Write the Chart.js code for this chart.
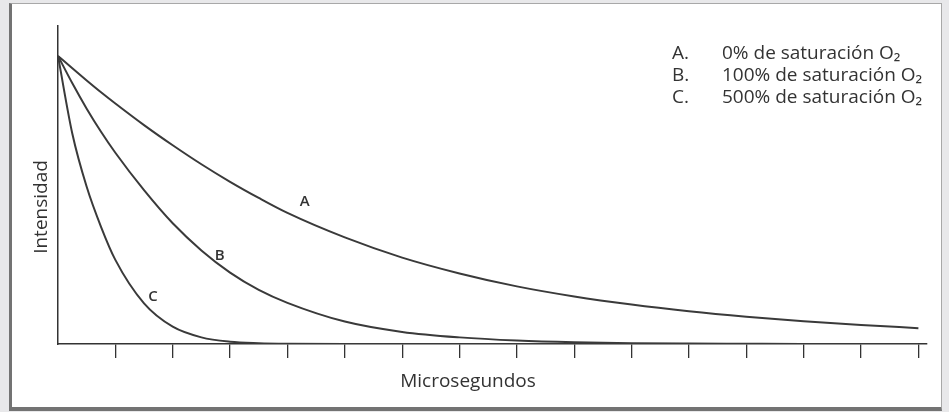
<!DOCTYPE html>
<html>
<head>
<meta charset="utf-8">
<script src="https://cdn.jsdelivr.net/npm/chart.js"></script>
<style>
  body { margin: 0; background: #e8e8ea; }
  #marco {
    position: absolute; left: 9px; top: 3px;
    width: 929px; height: 403px; background: #fff;
    border-left: 3px solid #737373; border-top: 1px solid #a8a8a8;
    border-right: 1px solid #a8a8a8; border-bottom: 4px solid #737373;
  }
  canvas { display: block; }
</style>
</head>
<body>
<div id="marco"><canvas id="grafico" width="929" height="403"></canvas></div>
<script>
  // tiempo en unidades de marca del eje (sin etiquetas en el original)
  const tiempo = [0, 0.25, 0.5, 0.75, 1, 1.5, 2, 2.5, 3, 3.5, 4, 5, 6, 7, 8, 9, 10, 11, 12, 13, 14, 15];
  const curvaA = [1, 0.957, 0.915, 0.874, 0.835, 0.76, 0.69, 0.624, 0.563, 0.507, 0.455, 0.37, 0.30, 0.245, 0.20, 0.165, 0.137, 0.114, 0.095, 0.079, 0.066, 0.055];
  const curvaB = [1, 0.905, 0.817, 0.737, 0.664, 0.534, 0.419, 0.325, 0.248, 0.188, 0.143, 0.078, 0.042, 0.023, 0.012, 0.006, 0.003, 0.0015, 0.0007, 0, 0, 0];
  const curvaC = [1, 0.73, 0.546, 0.407, 0.292, 0.141, 0.06, 0.023, 0.008, 0.003, 0.001, 0, 0, 0, 0, 0, 0, 0, 0, 0, 0, 0];
  const marcas = [1, 2, 3, 4, 5, 6, 7, 8, 9, 10, 11, 12, 13, 14, 15];
  const etiquetas = ['A', 'B', 'C'];
  const leyenda = ['0% de saturación O₂', '100% de saturación O₂', '500% de saturación O₂'];

  const puntos = vals => vals.map((v, i) => ({ x: tiempo[i], y: v }));
  const serie = vals => ({
    data: puntos(vals),
    borderColor: '#3a3a3a',
    borderWidth: 2,
    pointRadius: 0,
    fill: false,
    cubicInterpolationMode: 'monotone'
  });

  const posEtiquetas = [[4.3, 0.493], [2.82, 0.306], [1.655, 0.163]];

  const textos = {
    id: 'textos',
    afterDraw(chart) {
      const { ctx, scales: { x, y } } = chart;
      ctx.save();
      ctx.fillStyle = '#333';
      ctx.textBaseline = 'middle';

      ctx.font = '600 15px "Open Sans"';
      ctx.textAlign = 'center';
      etiquetas.forEach((e, i) => {
        ctx.fillText(e, x.getPixelForValue(posEtiquetas[i][0]), y.getPixelForValue(posEtiquetas[i][1]));
      });

      ctx.font = '19px "Open Sans"';
      ctx.textAlign = 'left';
      leyenda.forEach((t, i) => {
        const yy = 50 + i * 22;
        ctx.fillText(etiquetas[i] + '.', 660, yy);
        ctx.fillText(t, 710, yy);
      });

      ctx.textAlign = 'center';
      ctx.fillText('Microsegundos', 456, 378);
      ctx.translate(30, 203);
      ctx.rotate(-Math.PI / 2);
      ctx.fillText('Intensidad', 0, 0);
      ctx.restore();
    }
  };

  new Chart(document.getElementById('grafico'), {
    type: 'line',
    data: { datasets: [serie(curvaA), serie(curvaB), serie(curvaC)] },
    options: {
      responsive: false,
      animation: false,
      layout: { padding: { left: 46, top: 22, right: 14, bottom: 0 } },
      plugins: { legend: { display: false }, tooltip: { enabled: false } },
      scales: {
        x: {
          type: 'linear', min: 0, max: 15.15,
          afterBuildTicks: s => { s.ticks = marcas.map(v => ({ value: v })); },
          afterFit: s => { s.height = 63; },
          ticks: { display: false },
          grid: { drawOnChartArea: false, drawTicks: true, tickLength: 14, color: '#333', lineWidth: 1.3 },
          border: { color: '#333', width: 1.5 }
        },
        y: {
          min: 0, max: 1.104,
          afterFit: s => { s.width = 0; },
          ticks: { display: false },
          grid: { drawOnChartArea: false, drawTicks: false },
          border: { color: '#333', width: 1.5 }
        }
      }
    },
    plugins: [textos]
  });
</script>
</body>
</html>
